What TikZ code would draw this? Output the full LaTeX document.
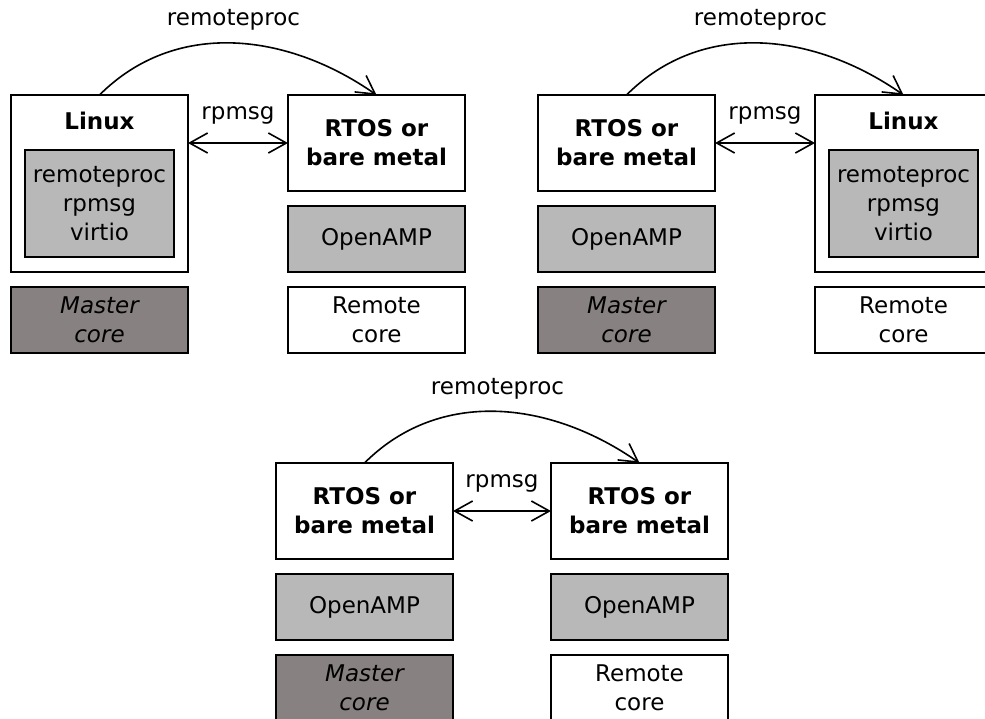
\documentclass[tikz,border=0pt]{standalone}
\usepackage{fontspec}
\setmainfont{DejaVu Sans}
\usepackage{tikz}
\usetikzlibrary{arrows.meta, positioning}
\definecolor{libgray}{RGB}{184,184,184}
\definecolor{mastergray}{RGB}{136,129,129}
\tikzstyle{boxbase} = [draw, line width=1pt, outer sep=0pt, minimum width=88.5pt, align=center]
\tikzstyle{osbox} = [boxbase, fill=white, minimum height=48pt, font=\bfseries]
\tikzstyle{linuxbox} = [boxbase, fill=white, minimum height=88.5pt]
\tikzstyle{stackbox} = [draw, line width=1pt, outer sep=0pt, fill=libgray, minimum width=74pt, minimum height=53.5pt, align=center]
\tikzstyle{libbox} = [boxbase, fill=libgray, minimum height=33pt]
\tikzstyle{masterbox} = [boxbase, fill=mastergray, minimum height=33pt, font=\itshape]
\tikzstyle{remotebox} = [boxbase, fill=white, minimum height=33pt]
\tikzstyle{ostitle} = [font=\bfseries]
\tikzstyle{rproc} = [->, line width=0.8pt]
\tikzstyle{ipc} = [<->, line width=0.8pt]

\begin{document}
\fontsize{11.5pt}{14.5pt}\selectfont
\begin{tikzpicture}[>={Straight Barb[length=9pt,width=10pt]}]
	\useasboundingbox (0,0) rectangle (492.5pt,-359pt);
	% Linux master, RTOS remote
	\node[linuxbox, anchor=north west] (linuxA) at (5.5pt,-47.5pt) {};
	\node[ostitle] (linuxAname) at ([yshift=-13pt]linuxA.north) {Linux};
	\node[stackbox, above=7.5pt] (stackA) at (linuxA.south) {remoteproc\\rpmsg\\virtio};
	\node[masterbox, below=7.5pt of linuxA] (masterA) {Master\\core};
	\node[osbox, anchor=north west] (rtosA) at ([xshift=50pt]linuxA.north east) {RTOS or\\bare metal};
	\node[libbox, below=7.5pt of rtosA] (ampA) {OpenAMP};
	\node[remotebox, below=7.5pt of ampA] (remoteA) {Remote\\core};
	\draw[rproc] (linuxA.north) to[out=45, in=145] node[above=2pt] (rprocA) {remoteproc} (rtosA.north);
	\draw[ipc] (linuxA.east |- rtosA.west) -- node[above=5pt] (rpmsgA) {rpmsg} (rtosA.west);

	% RTOS master, Linux remote
	\node[osbox, anchor=north west] (rtosB) at (269pt,-47.5pt) {RTOS or\\bare metal};
	\node[libbox, below=7.5pt of rtosB] (ampB) {OpenAMP};
	\node[masterbox, below=7.5pt of ampB] (masterB) {Master\\core};
	\node[linuxbox, anchor=north west] (linuxB) at ([xshift=50pt]rtosB.north east) {};
	\node[ostitle] (linuxBname) at ([yshift=-13pt]linuxB.north) {Linux};
	\node[stackbox, above=7.5pt] (stackB) at (linuxB.south) {remoteproc\\rpmsg\\virtio};
	\node[remotebox, below=7.5pt of linuxB] (remoteB) {Remote\\core};
	\draw[rproc] (rtosB.north) to[out=45, in=145] node[above=2pt] (rprocB) {remoteproc} (linuxB.north);
	\draw[ipc] (rtosB.east) -- node[above=5pt] (rpmsgB) {rpmsg} (linuxB.west |- rtosB.east);

	% RTOS master, RTOS remote
	\node[osbox, anchor=north west] (rtosC) at (138pt,-231.5pt) {RTOS or\\bare metal};
	\node[libbox, below=7.5pt of rtosC] (ampC) {OpenAMP};
	\node[masterbox, below=7.5pt of ampC] (masterC) {Master\\core};
	\node[osbox, anchor=north west] (rtosD) at ([xshift=49pt]rtosC.north east) {RTOS or\\bare metal};
	\node[libbox, below=7.5pt of rtosD] (ampD) {OpenAMP};
	\node[remotebox, below=7.5pt of ampD] (remoteD) {Remote\\core};
	\draw[rproc] (rtosC.north) to[out=45, in=145] node[above=2pt] (rprocC) {remoteproc} (rtosD.north);
	\draw[ipc] (rtosC.east) -- node[above=5pt] (rpmsgC) {rpmsg} (rtosD.west);
\end{tikzpicture}
\end{document}
